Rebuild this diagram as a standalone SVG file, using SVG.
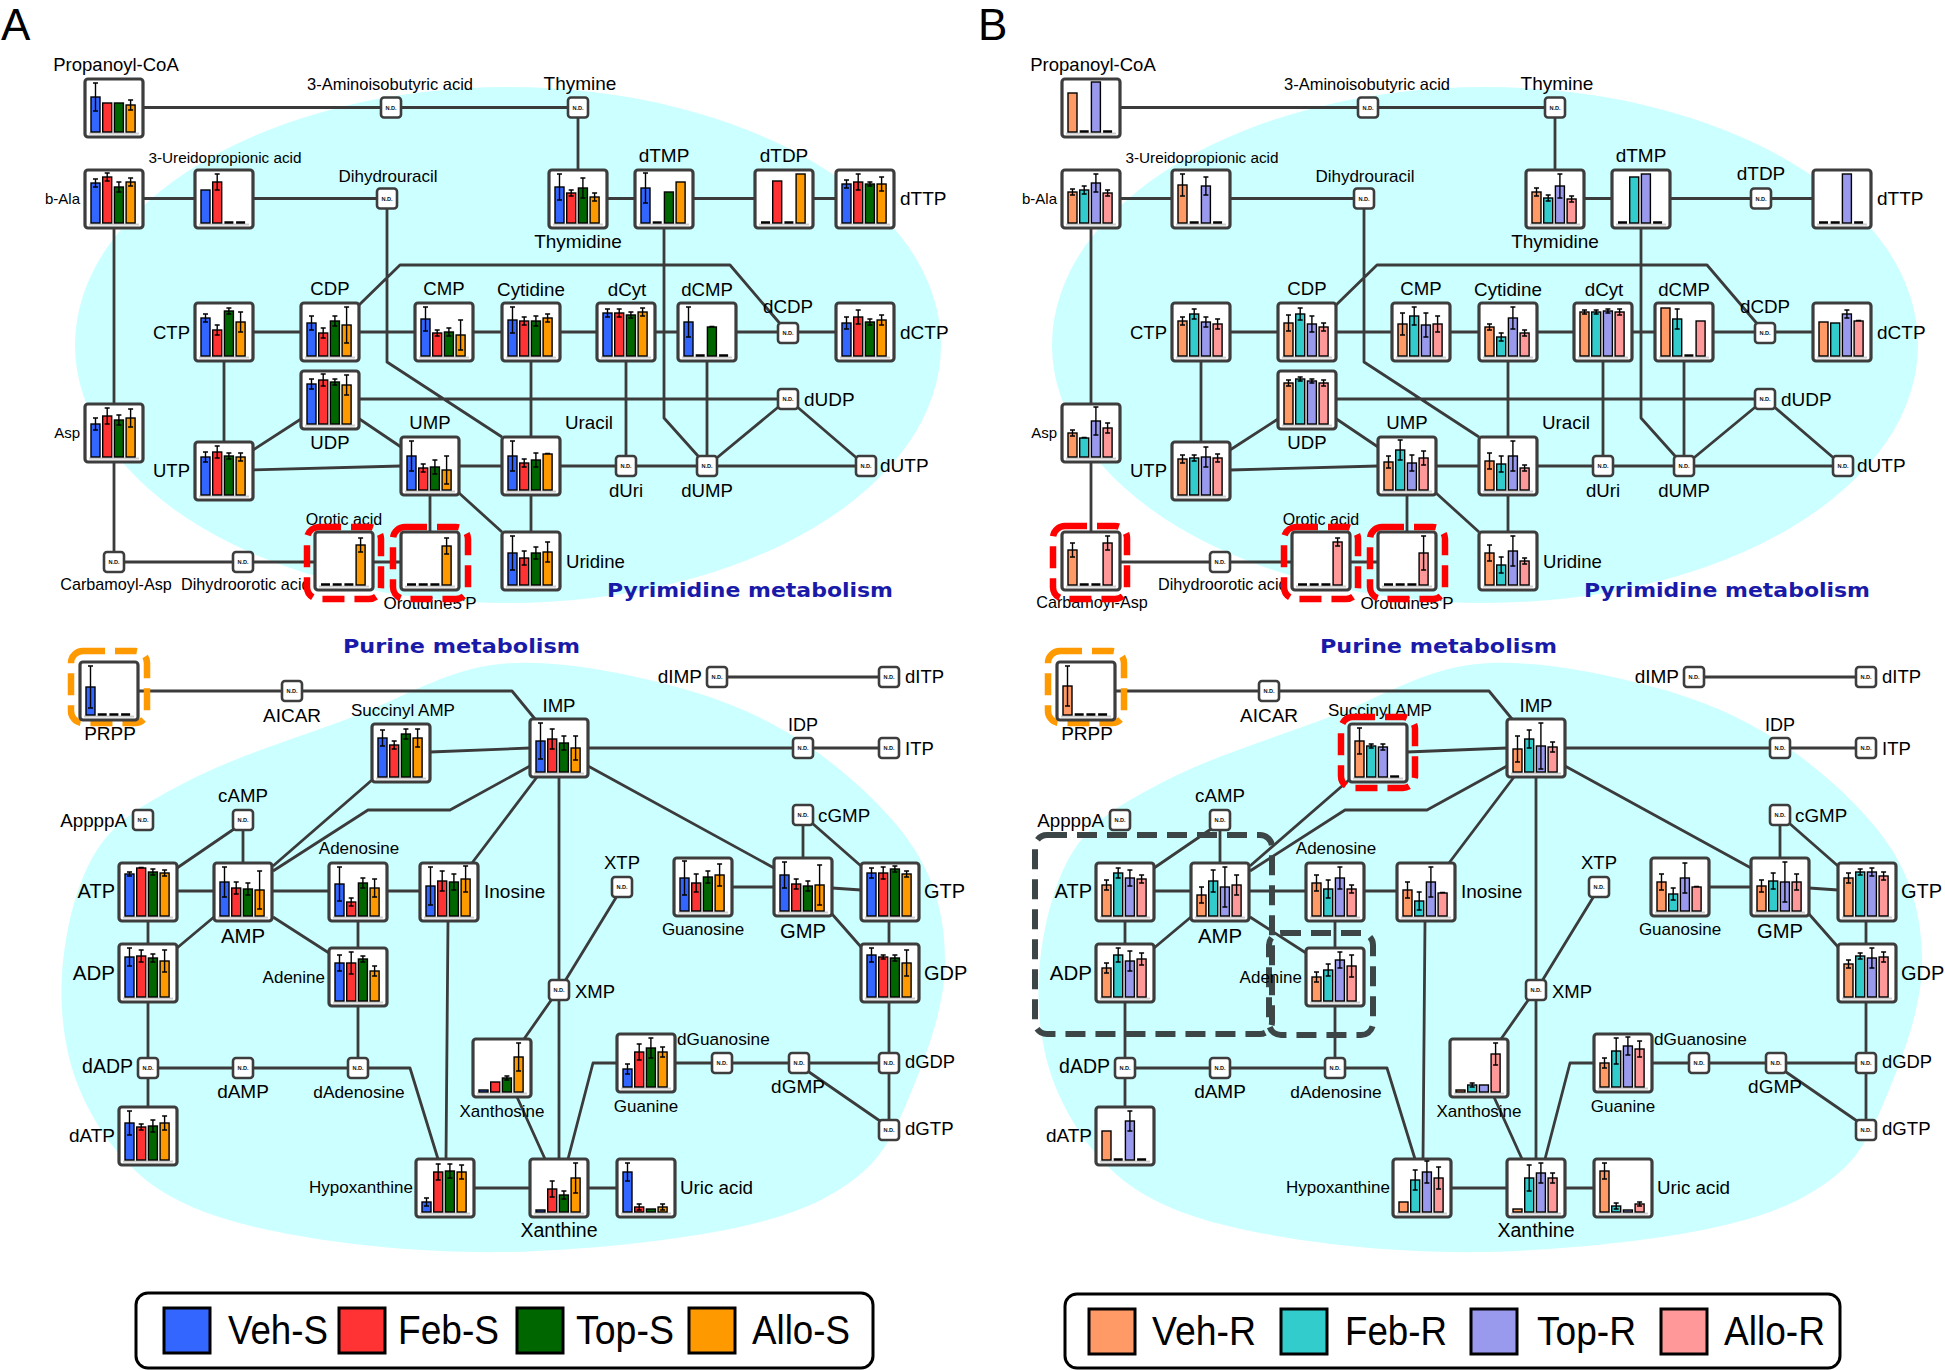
<svg xmlns="http://www.w3.org/2000/svg" width="1945" height="1370" viewBox="0 0 1945 1370">
<defs>
<style>
text{font-family:'Liberation Sans',Arial,sans-serif;fill:#000}
.m{text-anchor:middle}.e{text-anchor:end}
.cy{fill:#ccffff}
.cn{fill:none;stroke:#3b3b3b;stroke-width:2.8;stroke-linejoin:round}
.bx{fill:#fff;stroke:#3d3d3d;stroke-width:3.2}
.bl{fill:none;stroke:#cfcfcf;stroke-width:2}
.nd{fill:#fff;stroke:#3d3d3d;stroke-width:2.6}
.ndt{font-family:'Liberation Sans',Arial,sans-serif;font-weight:bold;font-size:5.6px;text-anchor:middle;fill:#111}
.er{fill:none;stroke:#000;stroke-width:1.4}
.ds{fill:none;stroke:#000;stroke-width:2.4}
.k1,.k2,.k3,.k4,.k5,.k6,.k7,.k8{stroke:#000;stroke-width:1.4}
.k1{fill:#3366ff}.k2{fill:#ff3333}.k3{fill:#006600}.k4{fill:#ff9900}
.k5{fill:#ff9966}.k6{fill:#33cccc}.k7{fill:#9999ee}.k8{fill:#ff9999}
.sw{stroke-width:3}
.rf{fill:none;stroke:#ff0000;stroke-width:6.5;stroke-dasharray:22 10}
.of{fill:none;stroke:#ff9900;stroke-width:6.5;stroke-dasharray:22 10}
.gf{fill:none;stroke:#3d4646;stroke-width:6;stroke-dasharray:20 10}
.ttl{font-family:'DejaVu Sans',sans-serif;font-weight:bold;font-size:19px;fill:#1a1aa8}
.lg{fill:#fff;stroke:#000;stroke-width:3}
.lt{font-size:40px}
.pl{font-size:44px}
</style>
<g id="frm"><rect class="bx" width="58" height="58" rx="3"/><path class="bl" d="M4 54.5h50"/></g>
</defs>
<rect width="1945" height="1370" fill="#fff"/>

<g id="panelA">
<text class="pl" x="1" y="40">A</text>
<g id="a-background">
<ellipse class="cy" cx="508" cy="345" rx="433" ry="258"/>
<path class="cy" d="M500 664C553.8 658.7 621.8 672.5 673 686C724.2 699.5 766.7 717.7 807 745C847.3 772.3 892 813.3 915 850C938 886.7 945.5 925 945 965C944.5 1005 926.7 1054.7 912 1090C897.3 1125.3 886.5 1154 857 1177C827.5 1200 793.2 1215.5 735 1228C676.8 1240.5 580.5 1250.7 508 1252C435.5 1253.3 358 1246.3 300 1236C242 1225.7 196.3 1213.5 160 1190C123.7 1166.5 98.3 1130.8 82 1095C65.7 1059.2 59.5 1015.8 62 975C64.5 934.2 75.7 882.5 97 850C118.3 817.5 147.8 802 190 780C232.2 758 298.3 737.3 350 718C401.7 698.7 446.2 669.3 500 664Z"/>
<text class="ttl" x="607" y="597" textLength="286" lengthAdjust="spacingAndGlyphs">Pyrimidine metabolism</text>
<text class="ttl" x="343" y="653" textLength="237" lengthAdjust="spacingAndGlyphs">Purine metabolism</text>
</g>
<g id="a-connectors">
<path class="cn" d="M143 107.5H578M578 107.5V170M114 227V404M114 462V562M143 198.5H387M387 198.5V362L502 437M578 198.5H865M664 198.5V418L707 466M224 332H865M358 306L400 265H730L788 333M224 332V471M253 450L301 419M253 470L401 466M358 418L401 447M330 399H788M430 466H866M531 332V561M626 332V466M707 332V466M707 466L788 399L866 466M430 466V561M459 493L502 532M114 562H430"/>
<path class="cn" d="M110 691H512L535 719M430 752L530 748M273 866L372 780M273 871L368 810H450L530 766M472 863L537 777M559 748V1188M559 748H889M588 766L774 868M717 677H889M148 891H449M177 868L234 829M243 820V863M148 891V1135M177 948L214 917M273 917L329 953M358 891V1068M148 1068H410L438 1159M448 921L446 1159M445 1188H645M617 896L565 981M552 999L524 1039M517 1097L545 1159M645 1063H593L568 1159M645 1063H889M809 1072L880 1121M889 891V1130M703 887H774M832 888L861 890M803 815V858M812 823L861 866M832 914L861 947"/>
</g>
<g id="a-nodes">
<g id="a-propanoyl-coa"><text class="m" x="116" y="71" font-size="18.5">Propanoyl-CoA</text><g transform="translate(85,79)"><use href="#frm"/><rect class="k1" x="6" y="18" width="9" height="35"/><rect class="k2" x="17.7" y="24" width="9" height="29"/><rect class="k3" x="29.4" y="24" width="9" height="29"/><rect class="k4" x="41.1" y="26" width="9" height="27"/><path class="er" d="M10.5 4V32M8 4h5M8 32h5M45.6 21V31M43.1 21h5M43.1 31h5"/></g></g>
<g id="a-3-aminoisobutyric-acid"><text class="m" x="390" y="90" font-size="16.5">3-Aminoisobutyric acid</text><rect class="nd" x="381" y="97.5" width="20" height="20" rx="3"/><text class="ndt" x="391" y="109.5">N.D.</text></g>
<g id="a-thymine"><text class="m" x="580" y="90" font-size="19">Thymine</text><rect class="nd" x="568" y="97.5" width="20" height="20" rx="3"/><text class="ndt" x="578" y="109.5">N.D.</text></g>
<g id="a-b-ala"><text class="e" x="80" y="204" font-size="15">b-Ala</text><g transform="translate(85,170)"><use href="#frm"/><rect class="k1" x="6" y="13" width="9" height="40"/><rect class="k2" x="17.7" y="7" width="9" height="46"/><rect class="k3" x="29.4" y="17" width="9" height="36"/><rect class="k4" x="41.1" y="12" width="9" height="41"/><path class="er" d="M10.5 9V17M8 9h5M8 17h5M22.2 3V11M19.7 3h5M19.7 11h5M33.9 12V22M31.4 12h5M31.4 22h5M45.6 8V16M43.1 8h5M43.1 16h5"/></g></g>
<g id="a-3-ureidopropionic-acid"><text class="m" x="225" y="163" font-size="15.3">3-Ureidopropionic acid</text><g transform="translate(195,170)"><use href="#frm"/><rect class="k1" x="6" y="20" width="9" height="33"/><rect class="k2" x="17.7" y="12" width="9" height="41"/><path class="er" d="M22.2 4V20M19.7 4h5M19.7 20h5"/><path class="ds" d="M29.4 52.5h9M41.1 52.5h9"/></g></g>
<g id="a-dihydrouracil"><text class="m" x="388" y="182" font-size="17">Dihydrouracil</text><rect class="nd" x="377" y="188.5" width="20" height="20" rx="3"/><text class="ndt" x="387" y="200.5">N.D.</text></g>
<g id="a-thymidine"><text class="m" x="578" y="248" font-size="19">Thymidine</text><g transform="translate(549,170)"><use href="#frm"/><rect class="k1" x="6" y="17" width="9" height="36"/><rect class="k2" x="17.7" y="23" width="9" height="30"/><rect class="k3" x="29.4" y="18" width="9" height="35"/><rect class="k4" x="41.1" y="27" width="9" height="26"/><path class="er" d="M10.5 4V30M8 4h5M8 30h5M22.2 20V26M19.7 20h5M19.7 26h5M33.9 8V28M31.4 8h5M31.4 28h5M45.6 23V31M43.1 23h5M43.1 31h5"/></g></g>
<g id="a-dtmp"><text class="m" x="664" y="162" font-size="19">dTMP</text><g transform="translate(635,170)"><use href="#frm"/><rect class="k1" x="6" y="18" width="9" height="35"/><rect class="k3" x="29.4" y="22" width="9" height="31"/><rect class="k4" x="41.1" y="12" width="9" height="41"/><path class="er" d="M10.5 3V33M8 3h5M8 33h5"/><path class="ds" d="M17.7 52.5h9"/></g></g>
<g id="a-dtdp"><text class="m" x="784" y="162" font-size="19">dTDP</text><g transform="translate(755,170)"><use href="#frm"/><rect class="k2" x="17.7" y="11" width="9" height="42"/><rect class="k4" x="41.1" y="4" width="9" height="49"/><path class="ds" d="M6 52.5h9M29.4 52.5h9"/></g></g>
<g id="a-dttp"><text x="900" y="205" font-size="19">dTTP</text><g transform="translate(836,170)"><use href="#frm"/><rect class="k1" x="6" y="14" width="9" height="39"/><rect class="k2" x="17.7" y="12" width="9" height="41"/><rect class="k3" x="29.4" y="14" width="9" height="39"/><rect class="k4" x="41.1" y="14" width="9" height="39"/><path class="er" d="M10.5 10V18M8 10h5M8 18h5M22.2 4V20M19.7 4h5M19.7 20h5M33.9 12V16M31.4 12h5M31.4 16h5M45.6 7V21M43.1 7h5M43.1 21h5"/></g></g>
<g id="a-ctp"><text class="e" x="190" y="339" font-size="18.5">CTP</text><g transform="translate(195,303)"><use href="#frm"/><rect class="k1" x="6" y="15" width="9" height="38"/><rect class="k2" x="17.7" y="27" width="9" height="26"/><rect class="k3" x="29.4" y="8" width="9" height="45"/><rect class="k4" x="41.1" y="19" width="9" height="34"/><path class="er" d="M10.5 11V19M8 11h5M8 19h5M22.2 22V32M19.7 22h5M19.7 32h5M33.9 5V11M31.4 5h5M31.4 11h5M45.6 9V29M43.1 9h5M43.1 29h5"/></g></g>
<g id="a-cdp"><text class="m" x="330" y="295" font-size="18.6">CDP</text><g transform="translate(301,303)"><use href="#frm"/><rect class="k1" x="6" y="20" width="9" height="33"/><rect class="k2" x="17.7" y="30" width="9" height="23"/><rect class="k3" x="29.4" y="18" width="9" height="35"/><rect class="k4" x="41.1" y="22" width="9" height="31"/><path class="er" d="M10.5 13V27M8 13h5M8 27h5M22.2 25V35M19.7 25h5M19.7 35h5M33.9 13V23M31.4 13h5M31.4 23h5M45.6 4V40M43.1 4h5M43.1 40h5"/></g></g>
<g id="a-cmp"><text class="m" x="444" y="295" font-size="18.6">CMP</text><g transform="translate(415,303)"><use href="#frm"/><rect class="k1" x="6" y="16" width="9" height="37"/><rect class="k2" x="17.7" y="30" width="9" height="23"/><rect class="k3" x="29.4" y="29" width="9" height="24"/><rect class="k4" x="41.1" y="32" width="9" height="21"/><path class="er" d="M10.5 4V28M8 4h5M8 28h5M22.2 27V33M19.7 27h5M19.7 33h5M33.9 25V33M31.4 25h5M31.4 33h5M45.6 17V47M43.1 17h5M43.1 47h5"/></g></g>
<g id="a-cytidine"><text class="m" x="531" y="296" font-size="18.8">Cytidine</text><g transform="translate(502,303)"><use href="#frm"/><rect class="k1" x="6" y="17" width="9" height="36"/><rect class="k2" x="17.7" y="18" width="9" height="35"/><rect class="k3" x="29.4" y="18" width="9" height="35"/><rect class="k4" x="41.1" y="15" width="9" height="38"/><path class="er" d="M10.5 4V30M8 4h5M8 30h5M22.2 14V22M19.7 14h5M19.7 22h5M33.9 13V23M31.4 13h5M31.4 23h5M45.6 11V19M43.1 11h5M43.1 19h5"/></g></g>
<g id="a-dcyt"><text class="m" x="627" y="296" font-size="18.8">dCyt</text><g transform="translate(597,303)"><use href="#frm"/><rect class="k1" x="6" y="10" width="9" height="43"/><rect class="k2" x="17.7" y="10" width="9" height="43"/><rect class="k3" x="29.4" y="12" width="9" height="41"/><rect class="k4" x="41.1" y="9" width="9" height="44"/><path class="er" d="M10.5 6V14M8 6h5M8 14h5M22.2 6V14M19.7 6h5M19.7 14h5M33.9 9V15M31.4 9h5M31.4 15h5M45.6 5V13M43.1 5h5M43.1 13h5"/></g></g>
<g id="a-dcmp"><text class="m" x="707" y="296" font-size="18.6">dCMP</text><g transform="translate(678,303)"><use href="#frm"/><rect class="k1" x="6" y="19" width="9" height="34"/><rect class="k3" x="29.4" y="24" width="9" height="29"/><path class="er" d="M10.5 4V34M8 4h5M8 34h5M31.4 23.5h5"/><path class="ds" d="M17.7 52.5h9M41.1 52.5h9"/></g></g>
<g id="a-dcdp"><text class="m" x="788" y="313" font-size="18.8">dCDP</text><rect class="nd" x="778" y="323" width="20" height="20" rx="3"/><text class="ndt" x="788" y="335">N.D.</text></g>
<g id="a-dctp"><text x="900" y="339" font-size="19">dCTP</text><g transform="translate(836,303)"><use href="#frm"/><rect class="k1" x="6" y="20" width="9" height="33"/><rect class="k2" x="17.7" y="14" width="9" height="39"/><rect class="k3" x="29.4" y="19" width="9" height="34"/><rect class="k4" x="41.1" y="17" width="9" height="36"/><path class="er" d="M10.5 14V26M8 14h5M8 26h5M22.2 7V21M19.7 7h5M19.7 21h5M33.9 16V22M31.4 16h5M31.4 22h5M45.6 12V22M43.1 12h5M43.1 22h5"/></g></g>
<g id="a-udp"><text class="m" x="330" y="449" font-size="18.6">UDP</text><g transform="translate(301,371)"><use href="#frm"/><rect class="k1" x="6" y="13" width="9" height="40"/><rect class="k2" x="17.7" y="9" width="9" height="44"/><rect class="k3" x="29.4" y="11" width="9" height="42"/><rect class="k4" x="41.1" y="14" width="9" height="39"/><path class="er" d="M10.5 8V18M8 8h5M8 18h5M22.2 3V15M19.7 3h5M19.7 15h5M33.9 8V14M31.4 8h5M31.4 14h5M45.6 4V24M43.1 4h5M43.1 24h5"/></g></g>
<g id="a-asp"><text class="e" x="80" y="438" font-size="15">Asp</text><g transform="translate(85,404)"><use href="#frm"/><rect class="k1" x="6" y="20" width="9" height="33"/><rect class="k2" x="17.7" y="12" width="9" height="41"/><rect class="k3" x="29.4" y="16" width="9" height="37"/><rect class="k4" x="41.1" y="14" width="9" height="39"/><path class="er" d="M10.5 14V26M8 14h5M8 26h5M22.2 4V20M19.7 4h5M19.7 20h5M33.9 11V21M31.4 11h5M31.4 21h5M45.6 5V23M43.1 5h5M43.1 23h5"/></g></g>
<g id="a-utp"><text class="e" x="190" y="477" font-size="18.5">UTP</text><g transform="translate(195,442)"><use href="#frm"/><rect class="k1" x="6" y="15" width="9" height="38"/><rect class="k2" x="17.7" y="10" width="9" height="43"/><rect class="k3" x="29.4" y="14" width="9" height="39"/><rect class="k4" x="41.1" y="15" width="9" height="38"/><path class="er" d="M10.5 10V20M8 10h5M8 20h5M22.2 4V16M19.7 4h5M19.7 16h5M33.9 11V17M31.4 11h5M31.4 17h5M45.6 11V19M43.1 11h5M43.1 19h5"/></g></g>
<g id="a-ump"><text class="m" x="430" y="429" font-size="18.6">UMP</text><g transform="translate(401,437)"><use href="#frm"/><rect class="k1" x="6" y="19" width="9" height="34"/><rect class="k2" x="17.7" y="31" width="9" height="22"/><rect class="k3" x="29.4" y="30" width="9" height="23"/><rect class="k4" x="41.1" y="33" width="9" height="20"/><path class="er" d="M10.5 4V34M8 4h5M8 34h5M22.2 27V35M19.7 27h5M19.7 35h5M33.9 23V37M31.4 23h5M31.4 37h5M45.6 19V47M43.1 19h5M43.1 47h5"/></g></g>
<g id="a-uracil"><text x="565" y="429" font-size="18.8">Uracil</text><g transform="translate(502,437)"><use href="#frm"/><rect class="k1" x="6" y="19" width="9" height="34"/><rect class="k2" x="17.7" y="26" width="9" height="27"/><rect class="k3" x="29.4" y="23" width="9" height="30"/><rect class="k4" x="41.1" y="17" width="9" height="36"/><path class="er" d="M10.5 4V34M8 4h5M8 34h5M22.2 22V30M19.7 22h5M19.7 30h5M33.9 16V30M31.4 16h5M31.4 30h5M43.1 16.5h5"/></g></g>
<g id="a-dudp"><text x="804" y="406" font-size="19">dUDP</text><rect class="nd" x="778" y="389" width="20" height="20" rx="3"/><text class="ndt" x="788" y="401">N.D.</text></g>
<g id="a-duri"><text class="m" x="626" y="497" font-size="18.6">dUri</text><rect class="nd" x="616" y="456" width="20" height="20" rx="3"/><text class="ndt" x="626" y="468">N.D.</text></g>
<g id="a-dump"><text class="m" x="707" y="497" font-size="18.6">dUMP</text><rect class="nd" x="697" y="456" width="20" height="20" rx="3"/><text class="ndt" x="707" y="468">N.D.</text></g>
<g id="a-dutp"><text x="880" y="472" font-size="19">dUTP</text><rect class="nd" x="856" y="456" width="20" height="20" rx="3"/><text class="ndt" x="866" y="468">N.D.</text></g>
<g id="a-carbamoyl-asp"><text class="m" x="116" y="590" font-size="16.2">Carbamoyl-Asp</text><rect class="nd" x="104" y="552" width="20" height="20" rx="3"/><text class="ndt" x="114" y="564">N.D.</text></g>
<g id="a-dihydroorotic-acid"><text x="181" y="590" font-size="16.2">Dihydroorotic acid</text><rect class="nd" x="233" y="552" width="20" height="20" rx="3"/><text class="ndt" x="243" y="564">N.D.</text></g>
<g id="a-orotic-acid"><text class="m" x="344" y="525" font-size="16">Orotic acid</text><rect class="rf" x="307" y="527" width="74" height="72" rx="12"/><g transform="translate(315,532)"><use href="#frm"/><rect class="k4" x="41.1" y="13" width="9" height="40"/><path class="er" d="M45.6 6V20M43.1 6h5M43.1 20h5"/><path class="ds" d="M6 52.5h9M17.7 52.5h9M29.4 52.5h9"/></g></g>
<g id="a-orotidine5p"><text class="m" x="430" y="609" font-size="17">Orotidine5'P</text><rect class="rf" x="393" y="527" width="75" height="72" rx="12"/><g transform="translate(401,532)"><use href="#frm"/><rect class="k4" x="41.1" y="14" width="9" height="39"/><path class="er" d="M45.6 6V22M43.1 6h5M43.1 22h5"/><path class="ds" d="M6 52.5h9M17.7 52.5h9M29.4 52.5h9"/></g></g>
<g id="a-uridine"><text x="566" y="568" font-size="18.6">Uridine</text><g transform="translate(502,532)"><use href="#frm"/><rect class="k1" x="6" y="21" width="9" height="32"/><rect class="k2" x="17.7" y="26" width="9" height="27"/><rect class="k3" x="29.4" y="21" width="9" height="32"/><rect class="k4" x="41.1" y="20" width="9" height="33"/><path class="er" d="M10.5 4V38M8 4h5M8 38h5M22.2 19V33M19.7 19h5M19.7 33h5M33.9 15V27M31.4 15h5M31.4 27h5M45.6 10V30M43.1 10h5M43.1 30h5"/></g></g>
<g id="a-prpp"><text class="m" x="110" y="740" font-size="19">PRPP</text><rect class="of" x="71" y="651" width="76" height="72" rx="12"/><g transform="translate(80,662)"><use href="#frm"/><rect class="k1" x="6" y="25" width="9" height="28"/><path class="er" d="M10.5 4V46M8 4h5M8 46h5"/><path class="ds" d="M17.7 52.5h9M29.4 52.5h9M41.1 52.5h9"/></g></g>
<g id="a-aicar"><text class="m" x="292" y="722" font-size="19">AICAR</text><rect class="nd" x="282" y="681" width="20" height="20" rx="3"/><text class="ndt" x="292" y="693">N.D.</text></g>
<g id="a-succinyl-amp"><text class="m" x="403" y="716" font-size="17">Succinyl AMP</text><g transform="translate(372,724)"><use href="#frm"/><rect class="k1" x="6" y="14" width="9" height="39"/><rect class="k2" x="17.7" y="21" width="9" height="32"/><rect class="k3" x="29.4" y="10" width="9" height="43"/><rect class="k4" x="41.1" y="14" width="9" height="39"/><path class="er" d="M10.5 6V22M8 6h5M8 22h5M22.2 17V25M19.7 17h5M19.7 25h5M33.9 5V15M31.4 5h5M31.4 15h5M45.6 5V23M43.1 5h5M43.1 23h5"/></g></g>
<g id="a-imp"><text class="m" x="559" y="712" font-size="18.6">IMP</text><g transform="translate(530,719)"><use href="#frm"/><rect class="k1" x="6" y="22" width="9" height="31"/><rect class="k2" x="17.7" y="20" width="9" height="33"/><rect class="k3" x="29.4" y="24" width="9" height="29"/><rect class="k4" x="41.1" y="29" width="9" height="24"/><path class="er" d="M10.5 4V40M8 4h5M8 40h5M22.2 10V30M19.7 10h5M19.7 30h5M33.9 17V31M31.4 17h5M31.4 31h5M45.6 17V41M43.1 17h5M43.1 41h5"/></g></g>
<g id="a-dimp"><text class="e" x="702" y="683" font-size="19">dIMP</text><rect class="nd" x="707" y="667" width="20" height="20" rx="3"/><text class="ndt" x="717" y="679">N.D.</text></g>
<g id="a-ditp"><text x="905" y="683" font-size="18.5">dITP</text><rect class="nd" x="879" y="667" width="20" height="20" rx="3"/><text class="ndt" x="889" y="679">N.D.</text></g>
<g id="a-idp"><text class="m" x="803" y="731" font-size="18">IDP</text><rect class="nd" x="793" y="738" width="20" height="20" rx="3"/><text class="ndt" x="803" y="750">N.D.</text></g>
<g id="a-itp"><text x="905" y="755" font-size="18.5">ITP</text><rect class="nd" x="879" y="738" width="20" height="20" rx="3"/><text class="ndt" x="889" y="750">N.D.</text></g>
<g id="a-appppa"><text class="e" x="127" y="827" font-size="18.8">AppppA</text><rect class="nd" x="133" y="810" width="20" height="20" rx="3"/><text class="ndt" x="143" y="822">N.D.</text></g>
<g id="a-camp"><text class="m" x="243" y="802" font-size="18.7">cAMP</text><rect class="nd" x="233" y="810" width="20" height="20" rx="3"/><text class="ndt" x="243" y="822">N.D.</text></g>
<g id="a-cgmp"><text x="818" y="822" font-size="18.8">cGMP</text><rect class="nd" x="793" y="805" width="20" height="20" rx="3"/><text class="ndt" x="803" y="817">N.D.</text></g>
<g id="a-xtp"><text class="m" x="622" y="869" font-size="18.5">XTP</text><rect class="nd" x="612" y="877" width="20" height="20" rx="3"/><text class="ndt" x="622" y="889">N.D.</text></g>
<g id="a-xmp"><text x="575" y="998" font-size="18.5">XMP</text><rect class="nd" x="549" y="980" width="20" height="20" rx="3"/><text class="ndt" x="559" y="992">N.D.</text></g>
<g id="a-atp"><text class="e" x="115" y="898" font-size="20">ATP</text><g transform="translate(119,863)"><use href="#frm"/><rect class="k1" x="6" y="11" width="9" height="42"/><rect class="k2" x="17.7" y="5" width="9" height="48"/><rect class="k3" x="29.4" y="9" width="9" height="44"/><rect class="k4" x="41.1" y="10" width="9" height="43"/><path class="er" d="M10.5 9V13M8 9h5M8 13h5M19.7 4.5h5M33.9 6V12M31.4 6h5M31.4 12h5M45.6 7V13M43.1 7h5M43.1 13h5"/></g></g>
<g id="a-amp"><text class="m" x="243" y="943" font-size="20.4">AMP</text><g transform="translate(214,863)"><use href="#frm"/><rect class="k1" x="6" y="19" width="9" height="34"/><rect class="k2" x="17.7" y="25" width="9" height="28"/><rect class="k3" x="29.4" y="26" width="9" height="27"/><rect class="k4" x="41.1" y="27" width="9" height="26"/><path class="er" d="M10.5 4V34M8 4h5M8 34h5M22.2 19V31M19.7 19h5M19.7 31h5M33.9 20V32M31.4 20h5M31.4 32h5M45.6 8V46M43.1 8h5M43.1 46h5"/></g></g>
<g id="a-adenosine"><text class="m" x="359" y="854" font-size="17">Adenosine</text><g transform="translate(329,863)"><use href="#frm"/><rect class="k1" x="6" y="21" width="9" height="32"/><rect class="k2" x="17.7" y="39" width="9" height="14"/><rect class="k3" x="29.4" y="20" width="9" height="33"/><rect class="k4" x="41.1" y="25" width="9" height="28"/><path class="er" d="M10.5 4V38M8 4h5M8 38h5M22.2 35V43M19.7 35h5M19.7 43h5M33.9 15V25M31.4 15h5M31.4 25h5M45.6 16V34M43.1 16h5M43.1 34h5"/></g></g>
<g id="a-inosine"><text x="484" y="898" font-size="19">Inosine</text><g transform="translate(420,863)"><use href="#frm"/><rect class="k1" x="6" y="23" width="9" height="30"/><rect class="k2" x="17.7" y="18" width="9" height="35"/><rect class="k3" x="29.4" y="19" width="9" height="34"/><rect class="k4" x="41.1" y="16" width="9" height="37"/><path class="er" d="M10.5 4V42M8 4h5M8 42h5M22.2 8V28M19.7 8h5M19.7 28h5M33.9 11V27M31.4 11h5M31.4 27h5M45.6 3V29M43.1 3h5M43.1 29h5"/></g></g>
<g id="a-guanosine"><text class="m" x="703" y="935" font-size="17">Guanosine</text><g transform="translate(674,858)"><use href="#frm"/><rect class="k1" x="6" y="20" width="9" height="33"/><rect class="k2" x="17.7" y="25" width="9" height="28"/><rect class="k3" x="29.4" y="19" width="9" height="34"/><rect class="k4" x="41.1" y="17" width="9" height="36"/><path class="er" d="M10.5 3V37M8 3h5M8 37h5M22.2 16V34M19.7 16h5M19.7 34h5M33.9 13V25M31.4 13h5M31.4 25h5M45.6 6V28M43.1 6h5M43.1 28h5"/></g></g>
<g id="a-gmp"><text class="m" x="803" y="938" font-size="20.2">GMP</text><g transform="translate(774,858)"><use href="#frm"/><rect class="k1" x="6" y="17" width="9" height="36"/><rect class="k2" x="17.7" y="26" width="9" height="27"/><rect class="k3" x="29.4" y="28" width="9" height="25"/><rect class="k4" x="41.1" y="27" width="9" height="26"/><path class="er" d="M10.5 4V30M8 4h5M8 30h5M22.2 21V31M19.7 21h5M19.7 31h5M33.9 23V33M31.4 23h5M31.4 33h5M45.6 7V47M43.1 7h5M43.1 47h5"/></g></g>
<g id="a-gtp"><text x="924" y="898" font-size="20">GTP</text><g transform="translate(861,863)"><use href="#frm"/><rect class="k1" x="6" y="10" width="9" height="43"/><rect class="k2" x="17.7" y="10" width="9" height="43"/><rect class="k3" x="29.4" y="6" width="9" height="47"/><rect class="k4" x="41.1" y="11" width="9" height="42"/><path class="er" d="M10.5 5V15M8 5h5M8 15h5M22.2 4V16M19.7 4h5M19.7 16h5M33.9 3V9M31.4 3h5M31.4 9h5M45.6 8V14M43.1 8h5M43.1 14h5"/></g></g>
<g id="a-adp"><text class="e" x="115" y="980" font-size="20.5">ADP</text><g transform="translate(119,944)"><use href="#frm"/><rect class="k1" x="6" y="13" width="9" height="40"/><rect class="k2" x="17.7" y="12" width="9" height="41"/><rect class="k3" x="29.4" y="14" width="9" height="39"/><rect class="k4" x="41.1" y="17" width="9" height="36"/><path class="er" d="M10.5 4V22M8 4h5M8 22h5M22.2 6V18M19.7 6h5M19.7 18h5M33.9 10V18M31.4 10h5M31.4 18h5M45.6 6V28M43.1 6h5M43.1 28h5"/></g></g>
<g id="a-adenine"><text class="e" x="325" y="983" font-size="17">Adenine</text><g transform="translate(329,948)"><use href="#frm"/><rect class="k1" x="6" y="15" width="9" height="38"/><rect class="k2" x="17.7" y="15" width="9" height="38"/><rect class="k3" x="29.4" y="11" width="9" height="42"/><rect class="k4" x="41.1" y="23" width="9" height="30"/><path class="er" d="M10.5 7V23M8 7h5M8 23h5M22.2 4V26M19.7 4h5M19.7 26h5M33.9 8V14M31.4 8h5M31.4 14h5M45.6 18V28M43.1 18h5M43.1 28h5"/></g></g>
<g id="a-gdp"><text x="924" y="980" font-size="20">GDP</text><g transform="translate(861,944)"><use href="#frm"/><rect class="k1" x="6" y="11" width="9" height="42"/><rect class="k2" x="17.7" y="13" width="9" height="40"/><rect class="k3" x="29.4" y="14" width="9" height="39"/><rect class="k4" x="41.1" y="19" width="9" height="34"/><path class="er" d="M10.5 4V18M8 4h5M8 18h5M22.2 11V15M19.7 11h5M19.7 15h5M33.9 11V17M31.4 11h5M31.4 17h5M45.6 6V32M43.1 6h5M43.1 32h5"/></g></g>
<g id="a-dadp"><text class="e" x="133" y="1073" font-size="19.5">dADP</text><rect class="nd" x="138" y="1058" width="20" height="20" rx="3"/><text class="ndt" x="148" y="1070">N.D.</text></g>
<g id="a-damp"><text class="m" x="243" y="1098" font-size="19">dAMP</text><rect class="nd" x="233" y="1058" width="20" height="20" rx="3"/><text class="ndt" x="243" y="1070">N.D.</text></g>
<g id="a-dadenosine"><text class="m" x="359" y="1098" font-size="17.3">dAdenosine</text><rect class="nd" x="348" y="1058" width="20" height="20" rx="3"/><text class="ndt" x="358" y="1070">N.D.</text></g>
<g id="a-dguanosine"><text x="677" y="1045" font-size="17.2">dGuanosine</text><rect class="nd" x="712" y="1053" width="20" height="20" rx="3"/><text class="ndt" x="722" y="1065">N.D.</text></g>
<g id="a-dgmp"><text class="m" x="798" y="1093" font-size="19">dGMP</text><rect class="nd" x="789" y="1053" width="20" height="20" rx="3"/><text class="ndt" x="799" y="1065">N.D.</text></g>
<g id="a-dgdp"><text x="905" y="1068" font-size="18.4">dGDP</text><rect class="nd" x="879" y="1053" width="20" height="20" rx="3"/><text class="ndt" x="889" y="1065">N.D.</text></g>
<g id="a-dgtp"><text x="905" y="1135" font-size="18.6">dGTP</text><rect class="nd" x="879" y="1120" width="20" height="20" rx="3"/><text class="ndt" x="889" y="1132">N.D.</text></g>
<g id="a-xanthosine"><text class="m" x="502" y="1117" font-size="17">Xanthosine</text><g transform="translate(473,1039)"><use href="#frm"/><rect class="k1" x="6" y="51" width="9" height="2"/><rect class="k2" x="17.7" y="43" width="9" height="10"/><rect class="k3" x="29.4" y="39" width="9" height="14"/><rect class="k4" x="41.1" y="18" width="9" height="35"/><path class="er" d="M33.9 37V41M31.4 37h5M31.4 41h5M45.6 4V32M43.1 4h5M43.1 32h5"/></g></g>
<g id="a-guanine"><text class="m" x="646" y="1112" font-size="17">Guanine</text><g transform="translate(617,1034)"><use href="#frm"/><rect class="k1" x="6" y="35" width="9" height="18"/><rect class="k2" x="17.7" y="18" width="9" height="35"/><rect class="k3" x="29.4" y="14" width="9" height="39"/><rect class="k4" x="41.1" y="18" width="9" height="35"/><path class="er" d="M10.5 30V40M8 30h5M8 40h5M22.2 10V26M19.7 10h5M19.7 26h5M33.9 4V24M31.4 4h5M31.4 24h5M45.6 13V23M43.1 13h5M43.1 23h5"/></g></g>
<g id="a-datp"><text class="e" x="115" y="1142" font-size="19">dATP</text><g transform="translate(119,1107)"><use href="#frm"/><rect class="k1" x="6" y="16" width="9" height="37"/><rect class="k2" x="17.7" y="20" width="9" height="33"/><rect class="k3" x="29.4" y="19" width="9" height="34"/><rect class="k4" x="41.1" y="16" width="9" height="37"/><path class="er" d="M10.5 4V28M8 4h5M8 28h5M22.2 17V23M19.7 17h5M19.7 23h5M33.9 13V25M31.4 13h5M31.4 25h5M45.6 9V23M43.1 9h5M43.1 23h5"/></g></g>
<g id="a-hypoxanthine"><text class="e" x="413" y="1193" font-size="17">Hypoxanthine</text><g transform="translate(416,1159)"><use href="#frm"/><rect class="k1" x="6" y="43" width="9" height="10"/><rect class="k2" x="17.7" y="13" width="9" height="40"/><rect class="k3" x="29.4" y="12" width="9" height="41"/><rect class="k4" x="41.1" y="13" width="9" height="40"/><path class="er" d="M10.5 39V47M8 39h5M8 47h5M22.2 5V21M19.7 5h5M19.7 21h5M33.9 5V19M31.4 5h5M31.4 19h5M45.6 6V20M43.1 6h5M43.1 20h5"/></g></g>
<g id="a-xanthine"><text class="m" x="559" y="1237" font-size="19.5">Xanthine</text><g transform="translate(530,1159)"><use href="#frm"/><rect class="k1" x="6" y="51" width="9" height="2"/><rect class="k2" x="17.7" y="30" width="9" height="23"/><rect class="k3" x="29.4" y="36" width="9" height="17"/><rect class="k4" x="41.1" y="19" width="9" height="34"/><path class="er" d="M22.2 22V38M19.7 22h5M19.7 38h5M33.9 32V40M31.4 32h5M31.4 40h5M45.6 4V34M43.1 4h5M43.1 34h5"/></g></g>
<g id="a-uric-acid"><text x="680" y="1194" font-size="18.8">Uric acid</text><g transform="translate(617,1159)"><use href="#frm"/><rect class="k1" x="6" y="13" width="9" height="40"/><rect class="k2" x="17.7" y="48" width="9" height="5"/><rect class="k3" x="29.4" y="50" width="9" height="3"/><rect class="k4" x="41.1" y="48" width="9" height="5"/><path class="er" d="M10.5 4V22M8 4h5M8 22h5M22.2 45V51M19.7 45h5M19.7 51h5M45.6 45V51M43.1 45h5M43.1 51h5"/></g></g>
</g>
<g id="a-legend"><rect class="lg" x="136" y="1293" width="737" height="75" rx="12"/>
<rect class="k1 sw" x="164" y="1308" width="46" height="45"/><text class="lt" x="228" y="1344" textLength="100" lengthAdjust="spacingAndGlyphs">Veh-S</text>
<rect class="k2 sw" x="339" y="1308" width="46" height="45"/><text class="lt" x="398" y="1344" textLength="101" lengthAdjust="spacingAndGlyphs">Feb-S</text>
<rect class="k3 sw" x="517" y="1308" width="46" height="45"/><text class="lt" x="576" y="1344" textLength="98" lengthAdjust="spacingAndGlyphs">Top-S</text>
<rect class="k4 sw" x="689" y="1308" width="46" height="45"/><text class="lt" x="752" y="1344" textLength="98" lengthAdjust="spacingAndGlyphs">Allo-S</text></g>
</g>

<g id="panelB" transform="translate(977,0)">
<text class="pl" x="1" y="40">B</text>
<g id="b-background">
<ellipse class="cy" cx="508" cy="345" rx="433" ry="258"/>
<path class="cy" d="M500 664C553.8 658.7 621.8 672.5 673 686C724.2 699.5 766.7 717.7 807 745C847.3 772.3 892 813.3 915 850C938 886.7 945.5 925 945 965C944.5 1005 926.7 1054.7 912 1090C897.3 1125.3 886.5 1154 857 1177C827.5 1200 793.2 1215.5 735 1228C676.8 1240.5 580.5 1250.7 508 1252C435.5 1253.3 358 1246.3 300 1236C242 1225.7 196.3 1213.5 160 1190C123.7 1166.5 98.3 1130.8 82 1095C65.7 1059.2 59.5 1015.8 62 975C64.5 934.2 75.7 882.5 97 850C118.3 817.5 147.8 802 190 780C232.2 758 298.3 737.3 350 718C401.7 698.7 446.2 669.3 500 664Z"/>
<text class="ttl" x="607" y="597" textLength="286" lengthAdjust="spacingAndGlyphs">Pyrimidine metabolism</text>
<text class="ttl" x="343" y="653" textLength="237" lengthAdjust="spacingAndGlyphs">Purine metabolism</text>
</g>
<g id="b-connectors">
<path class="cn" d="M143 107.5H578M578 107.5V170M114 227V404M114 462V562M143 198.5H387M387 198.5V362L502 437M578 198.5H865M664 198.5V418L707 466M224 332H865M358 306L400 265H730L788 333M224 332V471M253 450L301 419M253 470L401 466M358 418L401 447M330 399H788M430 466H866M531 332V561M626 332V466M707 332V466M707 466L788 399L866 466M430 466V561M459 493L502 532M114 562H430"/>
<path class="cn" d="M110 691H512L535 719M430 752L530 748M273 866L372 780M273 871L368 810H450L530 766M472 863L537 777M559 748V1188M559 748H889M588 766L774 868M717 677H889M148 891H449M177 868L234 829M243 820V863M148 891V1135M177 948L214 917M273 917L329 953M358 891V1068M148 1068H410L438 1159M448 921L446 1159M445 1188H645M617 896L565 981M552 999L524 1039M517 1097L545 1159M645 1063H593L568 1159M645 1063H889M809 1072L880 1121M889 891V1130M703 887H774M832 888L861 890M803 815V858M812 823L861 866M832 914L861 947"/>
</g>
<g id="b-highlight-frames"><rect class="gf" x="58" y="835" width="237" height="199" rx="12"/><rect class="gf" x="292" y="933" width="104" height="102" rx="12"/></g>
<g id="b-nodes">
<g id="b-propanoyl-coa"><text class="m" x="116" y="71" font-size="18.5">Propanoyl-CoA</text><g transform="translate(85,79)"><use href="#frm"/><rect class="k5" x="6" y="14" width="9" height="39"/><rect class="k7" x="29.4" y="3" width="9" height="50"/><path class="ds" d="M17.7 52.5h9M41.1 52.5h9"/></g></g>
<g id="b-3-aminoisobutyric-acid"><text class="m" x="390" y="90" font-size="16.5">3-Aminoisobutyric acid</text><rect class="nd" x="381" y="97.5" width="20" height="20" rx="3"/><text class="ndt" x="391" y="109.5">N.D.</text></g>
<g id="b-thymine"><text class="m" x="580" y="90" font-size="19">Thymine</text><rect class="nd" x="568" y="97.5" width="20" height="20" rx="3"/><text class="ndt" x="578" y="109.5">N.D.</text></g>
<g id="b-b-ala"><text class="e" x="80" y="204" font-size="15">b-Ala</text><g transform="translate(85,170)"><use href="#frm"/><rect class="k5" x="6" y="22" width="9" height="31"/><rect class="k6" x="17.7" y="20" width="9" height="33"/><rect class="k7" x="29.4" y="13" width="9" height="40"/><rect class="k8" x="41.1" y="23" width="9" height="30"/><path class="er" d="M10.5 19V25M8 19h5M8 25h5M22.2 16V24M19.7 16h5M19.7 24h5M33.9 4V22M31.4 4h5M31.4 22h5M45.6 20V26M43.1 20h5M43.1 26h5"/></g></g>
<g id="b-3-ureidopropionic-acid"><text class="m" x="225" y="163" font-size="15.3">3-Ureidopropionic acid</text><g transform="translate(195,170)"><use href="#frm"/><rect class="k5" x="6" y="15" width="9" height="38"/><rect class="k7" x="29.4" y="16" width="9" height="37"/><path class="er" d="M10.5 4V26M8 4h5M8 26h5M33.9 7V25M31.4 7h5M31.4 25h5"/><path class="ds" d="M17.7 52.5h9M41.1 52.5h9"/></g></g>
<g id="b-dihydrouracil"><text class="m" x="388" y="182" font-size="17">Dihydrouracil</text><rect class="nd" x="377" y="188.5" width="20" height="20" rx="3"/><text class="ndt" x="387" y="200.5">N.D.</text></g>
<g id="b-thymidine"><text class="m" x="578" y="248" font-size="19">Thymidine</text><g transform="translate(549,170)"><use href="#frm"/><rect class="k5" x="6" y="22" width="9" height="31"/><rect class="k6" x="17.7" y="28" width="9" height="25"/><rect class="k7" x="29.4" y="16" width="9" height="37"/><rect class="k8" x="41.1" y="29" width="9" height="24"/><path class="er" d="M10.5 18V26M8 18h5M8 26h5M22.2 25V31M19.7 25h5M19.7 31h5M33.9 4V28M31.4 4h5M31.4 28h5M45.6 26V32M43.1 26h5M43.1 32h5"/></g></g>
<g id="b-dtmp"><text class="m" x="664" y="162" font-size="19">dTMP</text><g transform="translate(635,170)"><use href="#frm"/><rect class="k6" x="17.7" y="7" width="9" height="46"/><rect class="k7" x="29.4" y="4" width="9" height="49"/><path class="ds" d="M6 52.5h9M41.1 52.5h9"/></g></g>
<g id="b-dtdp"><text class="m" x="784" y="180" font-size="19">dTDP</text><rect class="nd" x="774" y="188.5" width="20" height="20" rx="3"/><text class="ndt" x="784" y="200.5">N.D.</text></g>
<g id="b-dttp"><text x="900" y="205" font-size="19">dTTP</text><g transform="translate(836,170)"><use href="#frm"/><rect class="k7" x="29.4" y="4" width="9" height="49"/><path class="ds" d="M6 52.5h9M17.7 52.5h9M41.1 52.5h9"/></g></g>
<g id="b-ctp"><text class="e" x="190" y="339" font-size="18.5">CTP</text><g transform="translate(195,303)"><use href="#frm"/><rect class="k5" x="6" y="18" width="9" height="35"/><rect class="k6" x="17.7" y="11" width="9" height="42"/><rect class="k7" x="29.4" y="19" width="9" height="34"/><rect class="k8" x="41.1" y="21" width="9" height="32"/><path class="er" d="M10.5 14V22M8 14h5M8 22h5M22.2 6V16M19.7 6h5M19.7 16h5M33.9 14V24M31.4 14h5M31.4 24h5M45.6 16V26M43.1 16h5M43.1 26h5"/></g></g>
<g id="b-cdp"><text class="m" x="330" y="295" font-size="18.6">CDP</text><g transform="translate(301,303)"><use href="#frm"/><rect class="k5" x="6" y="20" width="9" height="33"/><rect class="k6" x="17.7" y="11" width="9" height="42"/><rect class="k7" x="29.4" y="21" width="9" height="32"/><rect class="k8" x="41.1" y="24" width="9" height="29"/><path class="er" d="M10.5 12V28M8 12h5M8 28h5M22.2 5V17M19.7 5h5M19.7 17h5M33.9 13V29M31.4 13h5M31.4 29h5M45.6 20V28M43.1 20h5M43.1 28h5"/></g></g>
<g id="b-cmp"><text class="m" x="444" y="295" font-size="18.6">CMP</text><g transform="translate(415,303)"><use href="#frm"/><rect class="k5" x="6" y="21" width="9" height="32"/><rect class="k6" x="17.7" y="13" width="9" height="40"/><rect class="k7" x="29.4" y="22" width="9" height="31"/><rect class="k8" x="41.1" y="21" width="9" height="32"/><path class="er" d="M10.5 10V32M8 10h5M8 32h5M22.2 4V22M19.7 4h5M19.7 22h5M33.9 10V34M31.4 10h5M31.4 34h5M45.6 13V29M43.1 13h5M43.1 29h5"/></g></g>
<g id="b-cytidine"><text class="m" x="531" y="296" font-size="18.8">Cytidine</text><g transform="translate(502,303)"><use href="#frm"/><rect class="k5" x="6" y="24" width="9" height="29"/><rect class="k6" x="17.7" y="34" width="9" height="19"/><rect class="k7" x="29.4" y="15" width="9" height="38"/><rect class="k8" x="41.1" y="30" width="9" height="23"/><path class="er" d="M10.5 21V27M8 21h5M8 27h5M22.2 30V38M19.7 30h5M19.7 38h5M33.9 4V26M31.4 4h5M31.4 26h5M45.6 27V33M43.1 27h5M43.1 33h5"/></g></g>
<g id="b-dcyt"><text class="m" x="627" y="296" font-size="18.8">dCyt</text><g transform="translate(597,303)"><use href="#frm"/><rect class="k5" x="6" y="9" width="9" height="44"/><rect class="k6" x="17.7" y="9" width="9" height="44"/><rect class="k7" x="29.4" y="8" width="9" height="45"/><rect class="k8" x="41.1" y="9" width="9" height="44"/><path class="er" d="M10.5 7V11M8 7h5M8 11h5M22.2 7V11M19.7 7h5M19.7 11h5M33.9 6V10M31.4 6h5M31.4 10h5M45.6 6V12M43.1 6h5M43.1 12h5"/></g></g>
<g id="b-dcmp"><text class="m" x="707" y="296" font-size="18.6">dCMP</text><g transform="translate(678,303)"><use href="#frm"/><rect class="k5" x="6" y="5" width="9" height="48"/><rect class="k6" x="17.7" y="16" width="9" height="37"/><rect class="k8" x="41.1" y="18" width="9" height="35"/><path class="er" d="M22.2 6V26M19.7 6h5M19.7 26h5"/><path class="ds" d="M29.4 52.5h9"/></g></g>
<g id="b-dcdp"><text class="m" x="788" y="313" font-size="18.8">dCDP</text><rect class="nd" x="778" y="323" width="20" height="20" rx="3"/><text class="ndt" x="788" y="335">N.D.</text></g>
<g id="b-dctp"><text x="900" y="339" font-size="19">dCTP</text><g transform="translate(836,303)"><use href="#frm"/><rect class="k5" x="6" y="19" width="9" height="34"/><rect class="k6" x="17.7" y="20" width="9" height="33"/><rect class="k7" x="29.4" y="11" width="9" height="42"/><rect class="k8" x="41.1" y="18" width="9" height="35"/><path class="er" d="M33.9 7V15M31.4 7h5M31.4 15h5M43.1 17.5h5"/></g></g>
<g id="b-udp"><text class="m" x="330" y="449" font-size="18.6">UDP</text><g transform="translate(301,371)"><use href="#frm"/><rect class="k5" x="6" y="12" width="9" height="41"/><rect class="k6" x="17.7" y="8" width="9" height="45"/><rect class="k7" x="29.4" y="10" width="9" height="43"/><rect class="k8" x="41.1" y="12" width="9" height="41"/><path class="er" d="M10.5 9V15M8 9h5M8 15h5M22.2 6V10M19.7 6h5M19.7 10h5M33.9 8V12M31.4 8h5M31.4 12h5M45.6 9V15M43.1 9h5M43.1 15h5"/></g></g>
<g id="b-asp"><text class="e" x="80" y="438" font-size="15">Asp</text><g transform="translate(85,404)"><use href="#frm"/><rect class="k5" x="6" y="29" width="9" height="24"/><rect class="k6" x="17.7" y="34" width="9" height="19"/><rect class="k7" x="29.4" y="17" width="9" height="36"/><rect class="k8" x="41.1" y="24" width="9" height="29"/><path class="er" d="M10.5 26V32M8 26h5M8 32h5M19.7 33.5h5M33.9 3V31M31.4 3h5M31.4 31h5M45.6 19V29M43.1 19h5M43.1 29h5"/></g></g>
<g id="b-utp"><text class="e" x="190" y="477" font-size="18.5">UTP</text><g transform="translate(195,442)"><use href="#frm"/><rect class="k5" x="6" y="17" width="9" height="36"/><rect class="k6" x="17.7" y="16" width="9" height="37"/><rect class="k7" x="29.4" y="15" width="9" height="38"/><rect class="k8" x="41.1" y="16" width="9" height="37"/><path class="er" d="M10.5 13V21M8 13h5M8 21h5M22.2 13V19M19.7 13h5M19.7 19h5M33.9 5V25M31.4 5h5M31.4 25h5M45.6 12V20M43.1 12h5M43.1 20h5"/></g></g>
<g id="b-ump"><text class="m" x="430" y="429" font-size="18.6">UMP</text><g transform="translate(401,437)"><use href="#frm"/><rect class="k5" x="6" y="25" width="9" height="28"/><rect class="k6" x="17.7" y="13" width="9" height="40"/><rect class="k7" x="29.4" y="26" width="9" height="27"/><rect class="k8" x="41.1" y="21" width="9" height="32"/><path class="er" d="M10.5 19V31M8 19h5M8 31h5M22.2 3V23M19.7 3h5M19.7 23h5M33.9 18V34M31.4 18h5M31.4 34h5M45.6 14V28M43.1 14h5M43.1 28h5"/></g></g>
<g id="b-uracil"><text x="565" y="429" font-size="18.8">Uracil</text><g transform="translate(502,437)"><use href="#frm"/><rect class="k5" x="6" y="24" width="9" height="29"/><rect class="k6" x="17.7" y="27" width="9" height="26"/><rect class="k7" x="29.4" y="19" width="9" height="34"/><rect class="k8" x="41.1" y="31" width="9" height="22"/><path class="er" d="M10.5 16V32M8 16h5M8 32h5M22.2 19V35M19.7 19h5M19.7 35h5M33.9 4V34M31.4 4h5M31.4 34h5M45.6 28V34M43.1 28h5M43.1 34h5"/></g></g>
<g id="b-dudp"><text x="804" y="406" font-size="19">dUDP</text><rect class="nd" x="778" y="389" width="20" height="20" rx="3"/><text class="ndt" x="788" y="401">N.D.</text></g>
<g id="b-duri"><text class="m" x="626" y="497" font-size="18.6">dUri</text><rect class="nd" x="616" y="456" width="20" height="20" rx="3"/><text class="ndt" x="626" y="468">N.D.</text></g>
<g id="b-dump"><text class="m" x="707" y="497" font-size="18.6">dUMP</text><rect class="nd" x="697" y="456" width="20" height="20" rx="3"/><text class="ndt" x="707" y="468">N.D.</text></g>
<g id="b-dutp"><text x="880" y="472" font-size="19">dUTP</text><rect class="nd" x="856" y="456" width="20" height="20" rx="3"/><text class="ndt" x="866" y="468">N.D.</text></g>
<g id="b-dihydroorotic-acid"><text x="181" y="590" font-size="16.2">Dihydroorotic acid</text><rect class="nd" x="233" y="552" width="20" height="20" rx="3"/><text class="ndt" x="243" y="564">N.D.</text></g>
<g id="b-carbamoyl-asp"><text class="m" x="115" y="608" font-size="16.2">Carbamoyl-Asp</text><rect class="rf" x="76" y="526" width="74" height="73" rx="12"/><g transform="translate(85,532)"><use href="#frm"/><rect class="k5" x="6" y="18" width="9" height="35"/><rect class="k8" x="41.1" y="11" width="9" height="42"/><path class="er" d="M10.5 11V25M8 11h5M8 25h5M45.6 4V18M43.1 4h5M43.1 18h5"/><path class="ds" d="M17.7 52.5h9M29.4 52.5h9"/></g></g>
<g id="b-orotic-acid"><text class="m" x="344" y="525" font-size="16">Orotic acid</text><rect class="rf" x="307" y="527" width="74" height="72" rx="12"/><g transform="translate(315,532)"><use href="#frm"/><rect class="k8" x="41.1" y="10" width="9" height="43"/><path class="er" d="M45.6 6V14M43.1 6h5M43.1 14h5"/><path class="ds" d="M6 52.5h9M17.7 52.5h9M29.4 52.5h9"/></g></g>
<g id="b-orotidine5p"><text class="m" x="430" y="609" font-size="17">Orotidine5'P</text><rect class="rf" x="393" y="527" width="75" height="72" rx="12"/><g transform="translate(401,532)"><use href="#frm"/><rect class="k8" x="41.1" y="21" width="9" height="32"/><path class="er" d="M45.6 4V38M43.1 4h5M43.1 38h5"/><path class="ds" d="M6 52.5h9M17.7 52.5h9M29.4 52.5h9"/></g></g>
<g id="b-uridine"><text x="566" y="568" font-size="18.6">Uridine</text><g transform="translate(502,532)"><use href="#frm"/><rect class="k5" x="6" y="21" width="9" height="32"/><rect class="k6" x="17.7" y="33" width="9" height="20"/><rect class="k7" x="29.4" y="19" width="9" height="34"/><rect class="k8" x="41.1" y="29" width="9" height="24"/><path class="er" d="M10.5 13V29M8 13h5M8 29h5M22.2 25V41M19.7 25h5M19.7 41h5M33.9 4V34M31.4 4h5M31.4 34h5M45.6 26V32M43.1 26h5M43.1 32h5"/></g></g>
<g id="b-prpp"><text class="m" x="110" y="740" font-size="19">PRPP</text><rect class="of" x="71" y="651" width="76" height="72" rx="12"/><g transform="translate(80,662)"><use href="#frm"/><rect class="k5" x="6" y="24" width="9" height="29"/><path class="er" d="M10.5 4V44M8 4h5M8 44h5"/><path class="ds" d="M17.7 52.5h9M29.4 52.5h9M41.1 52.5h9"/></g></g>
<g id="b-aicar"><text class="m" x="292" y="722" font-size="19">AICAR</text><rect class="nd" x="282" y="681" width="20" height="20" rx="3"/><text class="ndt" x="292" y="693">N.D.</text></g>
<g id="b-succinyl-amp"><text class="m" x="403" y="716" font-size="17">Succinyl AMP</text><rect class="rf" x="364" y="717" width="74" height="71" rx="12"/><g transform="translate(372,724)"><use href="#frm"/><rect class="k5" x="6" y="17" width="9" height="36"/><rect class="k6" x="17.7" y="22" width="9" height="31"/><rect class="k7" x="29.4" y="23" width="9" height="30"/><path class="er" d="M10.5 4V30M8 4h5M8 30h5M22.2 20V24M19.7 20h5M19.7 24h5M33.9 20V26M31.4 20h5M31.4 26h5"/><path class="ds" d="M41.1 52.5h9"/></g></g>
<g id="b-imp"><text class="m" x="559" y="712" font-size="18.6">IMP</text><g transform="translate(530,719)"><use href="#frm"/><rect class="k5" x="6" y="30" width="9" height="23"/><rect class="k6" x="17.7" y="20" width="9" height="33"/><rect class="k7" x="29.4" y="27" width="9" height="26"/><rect class="k8" x="41.1" y="28" width="9" height="25"/><path class="er" d="M10.5 17V43M8 17h5M8 43h5M22.2 11V29M19.7 11h5M19.7 29h5M33.9 4V50M31.4 4h5M31.4 50h5M45.6 23V33M43.1 23h5M43.1 33h5"/></g></g>
<g id="b-dimp"><text class="e" x="702" y="683" font-size="19">dIMP</text><rect class="nd" x="707" y="667" width="20" height="20" rx="3"/><text class="ndt" x="717" y="679">N.D.</text></g>
<g id="b-ditp"><text x="905" y="683" font-size="18.5">dITP</text><rect class="nd" x="879" y="667" width="20" height="20" rx="3"/><text class="ndt" x="889" y="679">N.D.</text></g>
<g id="b-idp"><text class="m" x="803" y="731" font-size="18">IDP</text><rect class="nd" x="793" y="738" width="20" height="20" rx="3"/><text class="ndt" x="803" y="750">N.D.</text></g>
<g id="b-itp"><text x="905" y="755" font-size="18.5">ITP</text><rect class="nd" x="879" y="738" width="20" height="20" rx="3"/><text class="ndt" x="889" y="750">N.D.</text></g>
<g id="b-appppa"><text class="e" x="127" y="827" font-size="18.8">AppppA</text><rect class="nd" x="133" y="810" width="20" height="20" rx="3"/><text class="ndt" x="143" y="822">N.D.</text></g>
<g id="b-camp"><text class="m" x="243" y="802" font-size="18.7">cAMP</text><rect class="nd" x="233" y="810" width="20" height="20" rx="3"/><text class="ndt" x="243" y="822">N.D.</text></g>
<g id="b-cgmp"><text x="818" y="822" font-size="18.8">cGMP</text><rect class="nd" x="793" y="805" width="20" height="20" rx="3"/><text class="ndt" x="803" y="817">N.D.</text></g>
<g id="b-xtp"><text class="m" x="622" y="869" font-size="18.5">XTP</text><rect class="nd" x="612" y="877" width="20" height="20" rx="3"/><text class="ndt" x="622" y="889">N.D.</text></g>
<g id="b-xmp"><text x="575" y="998" font-size="18.5">XMP</text><rect class="nd" x="549" y="980" width="20" height="20" rx="3"/><text class="ndt" x="559" y="992">N.D.</text></g>
<g id="b-atp"><text class="e" x="115" y="898" font-size="20">ATP</text><g transform="translate(119,863)"><use href="#frm"/><rect class="k5" x="6" y="22" width="9" height="31"/><rect class="k6" x="17.7" y="10" width="9" height="43"/><rect class="k7" x="29.4" y="15" width="9" height="38"/><rect class="k8" x="41.1" y="16" width="9" height="37"/><path class="er" d="M10.5 17V27M8 17h5M8 27h5M22.2 5V15M19.7 5h5M19.7 15h5M33.9 7V23M31.4 7h5M31.4 23h5M45.6 12V20M43.1 12h5M43.1 20h5"/></g></g>
<g id="b-amp"><text class="m" x="243" y="943" font-size="20.4">AMP</text><g transform="translate(214,863)"><use href="#frm"/><rect class="k5" x="6" y="32" width="9" height="21"/><rect class="k6" x="17.7" y="18" width="9" height="35"/><rect class="k7" x="29.4" y="24" width="9" height="29"/><rect class="k8" x="41.1" y="22" width="9" height="31"/><path class="er" d="M10.5 24V40M8 24h5M8 40h5M22.2 7V29M19.7 7h5M19.7 29h5M33.9 4V44M31.4 4h5M31.4 44h5M45.6 12V32M43.1 12h5M43.1 32h5"/></g></g>
<g id="b-adenosine"><text class="m" x="359" y="854" font-size="17">Adenosine</text><g transform="translate(329,863)"><use href="#frm"/><rect class="k5" x="6" y="20" width="9" height="33"/><rect class="k6" x="17.7" y="26" width="9" height="27"/><rect class="k7" x="29.4" y="15" width="9" height="38"/><rect class="k8" x="41.1" y="26" width="9" height="27"/><path class="er" d="M10.5 12V28M8 12h5M8 28h5M22.2 17V35M19.7 17h5M19.7 35h5M33.9 4V26M31.4 4h5M31.4 26h5M45.6 22V30M43.1 22h5M43.1 30h5"/></g></g>
<g id="b-inosine"><text x="484" y="898" font-size="19">Inosine</text><g transform="translate(420,863)"><use href="#frm"/><rect class="k5" x="6" y="27" width="9" height="26"/><rect class="k6" x="17.7" y="38" width="9" height="15"/><rect class="k7" x="29.4" y="19" width="9" height="34"/><rect class="k8" x="41.1" y="30" width="9" height="23"/><path class="er" d="M10.5 19V35M8 19h5M8 35h5M22.2 29V47M19.7 29h5M19.7 47h5M33.9 4V34M31.4 4h5M31.4 34h5M43.1 29.5h5"/></g></g>
<g id="b-guanosine"><text class="m" x="703" y="935" font-size="17">Guanosine</text><g transform="translate(674,858)"><use href="#frm"/><rect class="k5" x="6" y="24" width="9" height="29"/><rect class="k6" x="17.7" y="36" width="9" height="17"/><rect class="k7" x="29.4" y="20" width="9" height="33"/><rect class="k8" x="41.1" y="29" width="9" height="24"/><path class="er" d="M10.5 16V32M8 16h5M8 32h5M22.2 30V42M19.7 30h5M19.7 42h5M33.9 5V35M31.4 5h5M31.4 35h5M43.1 28.5h5"/></g></g>
<g id="b-gmp"><text class="m" x="803" y="938" font-size="20.2">GMP</text><g transform="translate(774,858)"><use href="#frm"/><rect class="k5" x="6" y="28" width="9" height="25"/><rect class="k6" x="17.7" y="23" width="9" height="30"/><rect class="k7" x="29.4" y="24" width="9" height="29"/><rect class="k8" x="41.1" y="24" width="9" height="29"/><path class="er" d="M10.5 22V34M8 22h5M8 34h5M22.2 15V31M19.7 15h5M19.7 31h5M33.9 4V44M31.4 4h5M31.4 44h5M45.6 16V32M43.1 16h5M43.1 32h5"/></g></g>
<g id="b-gtp"><text x="924" y="898" font-size="20">GTP</text><g transform="translate(861,863)"><use href="#frm"/><rect class="k5" x="6" y="15" width="9" height="38"/><rect class="k6" x="17.7" y="9" width="9" height="44"/><rect class="k7" x="29.4" y="9" width="9" height="44"/><rect class="k8" x="41.1" y="13" width="9" height="40"/><path class="er" d="M10.5 10V20M8 10h5M8 20h5M22.2 6V12M19.7 6h5M19.7 12h5M33.9 5V13M31.4 5h5M31.4 13h5M45.6 9V17M43.1 9h5M43.1 17h5"/></g></g>
<g id="b-adp"><text class="e" x="115" y="980" font-size="20.5">ADP</text><g transform="translate(119,944)"><use href="#frm"/><rect class="k5" x="6" y="24" width="9" height="29"/><rect class="k6" x="17.7" y="11" width="9" height="42"/><rect class="k7" x="29.4" y="17" width="9" height="36"/><rect class="k8" x="41.1" y="15" width="9" height="38"/><path class="er" d="M10.5 19V29M8 19h5M8 29h5M22.2 4V18M19.7 4h5M19.7 18h5M33.9 7V27M31.4 7h5M31.4 27h5M45.6 9V21M43.1 9h5M43.1 21h5"/></g></g>
<g id="b-adenine"><text class="e" x="325" y="983" font-size="17">Adenine</text><g transform="translate(329,948)"><use href="#frm"/><rect class="k5" x="6" y="29" width="9" height="24"/><rect class="k6" x="17.7" y="22" width="9" height="31"/><rect class="k7" x="29.4" y="12" width="9" height="41"/><rect class="k8" x="41.1" y="18" width="9" height="35"/><path class="er" d="M10.5 24V34M8 24h5M8 34h5M22.2 16V28M19.7 16h5M19.7 28h5M33.9 4V20M31.4 4h5M31.4 20h5M45.6 7V29M43.1 7h5M43.1 29h5"/></g></g>
<g id="b-gdp"><text x="924" y="980" font-size="20">GDP</text><g transform="translate(861,944)"><use href="#frm"/><rect class="k5" x="6" y="20" width="9" height="33"/><rect class="k6" x="17.7" y="12" width="9" height="41"/><rect class="k7" x="29.4" y="14" width="9" height="39"/><rect class="k8" x="41.1" y="13" width="9" height="40"/><path class="er" d="M10.5 16V24M8 16h5M8 24h5M22.2 9V15M19.7 9h5M19.7 15h5M33.9 4V24M31.4 4h5M31.4 24h5M45.6 8V18M43.1 8h5M43.1 18h5"/></g></g>
<g id="b-dadp"><text class="e" x="133" y="1073" font-size="19.5">dADP</text><rect class="nd" x="138" y="1058" width="20" height="20" rx="3"/><text class="ndt" x="148" y="1070">N.D.</text></g>
<g id="b-damp"><text class="m" x="243" y="1098" font-size="19">dAMP</text><rect class="nd" x="233" y="1058" width="20" height="20" rx="3"/><text class="ndt" x="243" y="1070">N.D.</text></g>
<g id="b-dadenosine"><text class="m" x="359" y="1098" font-size="17.3">dAdenosine</text><rect class="nd" x="348" y="1058" width="20" height="20" rx="3"/><text class="ndt" x="358" y="1070">N.D.</text></g>
<g id="b-dguanosine"><text x="677" y="1045" font-size="17.2">dGuanosine</text><rect class="nd" x="712" y="1053" width="20" height="20" rx="3"/><text class="ndt" x="722" y="1065">N.D.</text></g>
<g id="b-dgmp"><text class="m" x="798" y="1093" font-size="19">dGMP</text><rect class="nd" x="789" y="1053" width="20" height="20" rx="3"/><text class="ndt" x="799" y="1065">N.D.</text></g>
<g id="b-dgdp"><text x="905" y="1068" font-size="18.4">dGDP</text><rect class="nd" x="879" y="1053" width="20" height="20" rx="3"/><text class="ndt" x="889" y="1065">N.D.</text></g>
<g id="b-dgtp"><text x="905" y="1135" font-size="18.6">dGTP</text><rect class="nd" x="879" y="1120" width="20" height="20" rx="3"/><text class="ndt" x="889" y="1132">N.D.</text></g>
<g id="b-xanthosine"><text class="m" x="502" y="1117" font-size="17">Xanthosine</text><g transform="translate(473,1039)"><use href="#frm"/><rect class="k5" x="6" y="51" width="9" height="2"/><rect class="k6" x="17.7" y="46" width="9" height="7"/><rect class="k7" x="29.4" y="46" width="9" height="7"/><rect class="k8" x="41.1" y="15" width="9" height="38"/><path class="er" d="M22.2 44V48M19.7 44h5M19.7 48h5M45.6 4V26M43.1 4h5M43.1 26h5"/></g></g>
<g id="b-guanine"><text class="m" x="646" y="1112" font-size="17">Guanine</text><g transform="translate(617,1034)"><use href="#frm"/><rect class="k5" x="6" y="29" width="9" height="24"/><rect class="k6" x="17.7" y="17" width="9" height="36"/><rect class="k7" x="29.4" y="12" width="9" height="41"/><rect class="k8" x="41.1" y="15" width="9" height="38"/><path class="er" d="M10.5 24V34M8 24h5M8 34h5M22.2 4V30M19.7 4h5M19.7 30h5M33.9 3V21M31.4 3h5M31.4 21h5M45.6 7V23M43.1 7h5M43.1 23h5"/></g></g>
<g id="b-datp"><text class="e" x="115" y="1142" font-size="19">dATP</text><g transform="translate(119,1107)"><use href="#frm"/><rect class="k5" x="6" y="24" width="9" height="29"/><rect class="k7" x="29.4" y="14" width="9" height="39"/><path class="er" d="M33.9 4V24M31.4 4h5M31.4 24h5"/><path class="ds" d="M17.7 52.5h9M41.1 52.5h9"/></g></g>
<g id="b-hypoxanthine"><text class="e" x="413" y="1193" font-size="17">Hypoxanthine</text><g transform="translate(416,1159)"><use href="#frm"/><rect class="k5" x="6" y="43" width="9" height="10"/><rect class="k6" x="17.7" y="21" width="9" height="32"/><rect class="k7" x="29.4" y="13" width="9" height="40"/><rect class="k8" x="41.1" y="19" width="9" height="34"/><path class="er" d="M22.2 11V31M19.7 11h5M19.7 31h5M33.9 2V24M31.4 2h5M31.4 24h5M45.6 8V30M43.1 8h5M43.1 30h5"/></g></g>
<g id="b-xanthine"><text class="m" x="559" y="1237" font-size="19.5">Xanthine</text><g transform="translate(530,1159)"><use href="#frm"/><rect class="k5" x="6" y="50" width="9" height="3"/><rect class="k6" x="17.7" y="19" width="9" height="34"/><rect class="k7" x="29.4" y="14" width="9" height="39"/><rect class="k8" x="41.1" y="19" width="9" height="34"/><path class="er" d="M22.2 6V32M19.7 6h5M19.7 32h5M33.9 4V24M31.4 4h5M31.4 24h5M45.6 14V24M43.1 14h5M43.1 24h5"/></g></g>
<g id="b-uric-acid"><text x="680" y="1194" font-size="18.8">Uric acid</text><g transform="translate(617,1159)"><use href="#frm"/><rect class="k5" x="6" y="12" width="9" height="41"/><rect class="k6" x="17.7" y="47" width="9" height="6"/><rect class="k7" x="29.4" y="51" width="9" height="2"/><rect class="k8" x="41.1" y="45" width="9" height="8"/><path class="er" d="M10.5 4V20M8 4h5M8 20h5M22.2 44V50M19.7 44h5M19.7 50h5M45.6 43V47M43.1 43h5M43.1 47h5"/></g></g>
</g>
</g>
<g id="b-legend"><rect class="lg" x="1065" y="1294" width="775" height="74" rx="12"/>
<rect class="k5 sw" x="1089" y="1309" width="46" height="45"/><text class="lt" x="1152" y="1345" textLength="104" lengthAdjust="spacingAndGlyphs">Veh-R</text>
<rect class="k6 sw" x="1281" y="1309" width="46" height="45"/><text class="lt" x="1345" y="1345" textLength="102" lengthAdjust="spacingAndGlyphs">Feb-R</text>
<rect class="k7 sw" x="1471" y="1309" width="46" height="45"/><text class="lt" x="1537" y="1345" textLength="99" lengthAdjust="spacingAndGlyphs">Top-R</text>
<rect class="k8 sw" x="1661" y="1309" width="46" height="45"/><text class="lt" x="1724" y="1345" textLength="101" lengthAdjust="spacingAndGlyphs">Allo-R</text></g>
</svg>
